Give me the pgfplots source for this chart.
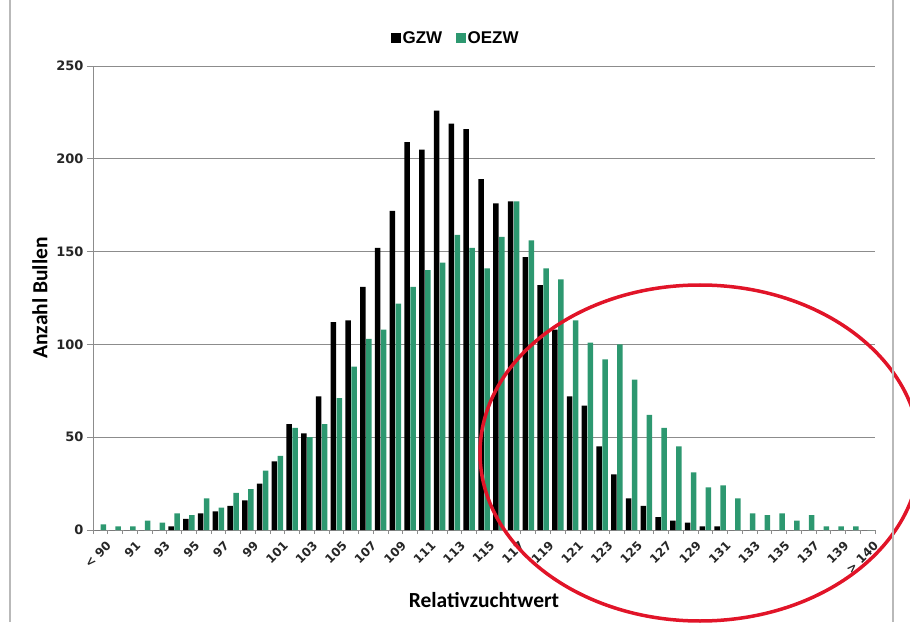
\documentclass[border=0pt]{standalone}
\usepackage{pgfplots}
\pgfplotsset{compat=1.18}
\usepackage{pgfplotstable}
\usepackage{fontspec}
\setmainfont{DejaVu Sans}
\newfontfamily\calib{Carlito}
\newfontfamily\arialf{Liberation Sans}
\definecolor{oezw}{RGB}{45,152,112}
\definecolor{gridc}{RGB}{140,140,140}
\definecolor{ringred}{RGB}{225,20,40}

\pgfplotstableread{
idx B G
0 0 3
1 0 2
2 0 2
3 0 5
4 0 4
5 2 9
6 6 8
7 9 17
8 10 12
9 13 20
10 16 22
11 25 32
12 37 40
13 57 55
14 52 50
15 72 57
16 112 71
17 113 88
18 131 103
19 152 108
20 172 122
21 209 131
22 205 140
23 226 144
24 219 159
25 216 152
26 189 141
27 176 158
28 177 177
29 147 156
30 132 141
31 108 135
32 72 113
33 67 101
34 45 92
35 30 100
36 17 81
37 13 62
38 7 55
39 5 45
40 4 31
41 2 23
42 2 24
43 0 17
44 0 9
45 0 8
46 0 9
47 0 5
48 0 8
49 0 2
50 0 2
51 0 2
52 0 0
}\datatab

\begin{document}
\begin{tikzpicture}
\begin{axis}[
  at={(93pt,92pt)}, anchor=south west,
  scale only axis, width=782pt, height=464pt,
  xmin=-0.5, xmax=52.5, ymin=0, ymax=250,
  axis lines*=left,
  axis line style={gridc, line width=0.8pt},
  ytick={0,50,...,250},
  ymajorgrids, grid style={gridc, line width=0.8pt},
  tick align=outside,
  major tick length=6pt,
  minor tick length=4pt,
  ytick style={gridc, line width=0.8pt},
  xtick={0,2,...,52},
  xticklabels={{< 90},91,93,95,97,99,101,103,105,107,109,111,113,115,117,119,121,123,125,127,129,131,133,135,137,139,{> 140}},
  minor xtick={-0.5,0.5,...,52.5},
  major x tick style={draw=none},
  minor x tick style={gridc, line width=0.8pt},
  /pgf/number format/assume math mode=true,
  yticklabel style={font=\fontsize{13}{15}\selectfont\bfseries, text=black!85},
  xticklabel style={font=\fontsize{12}{14}\selectfont\bfseries, text=black!85, rotate=45, anchor=east, inner sep=1pt, yshift=-11pt, xshift=2pt},
  xlabel={Relativzuchtwert},
  ylabel={Anzahl Bullen},
  every axis x label/.style={at={(axis description cs:0.5,-0.151)}, anchor=center, font=\calib\bfseries\fontsize{21.5}{25}\selectfont},
  every axis y label/.style={at={(axis description cs:-0.0678,0.5)}, rotate=90, anchor=center, font=\calib\bfseries\fontsize{21.5}{25}\selectfont},
  legend style={at={(axis description cs:0.464,1.060)}, anchor=center, draw=none, fill=none,
    font=\arialf\bfseries\fontsize{17}{20}\selectfont, inner sep=0pt,
    /tikz/every even column/.append style={column sep=12pt}},
  legend columns=2,
]
\addplot[ybar, bar width=5.5pt, bar shift=-3pt, fill=black, draw=none,
  legend image code/.code={\fill[black] (0pt,-4.7pt) rectangle (9.5pt,4.8pt);}]
  table[x=idx, y=B] {\datatab};
\addlegendentry{GZW}
\addplot[ybar, bar width=5.5pt, bar shift=3pt, fill=oezw, draw=none,
  legend image code/.code={\fill[oezw] (0pt,-4.7pt) rectangle (9.5pt,4.8pt);}]
  table[x=idx, y=G] {\datatab};
\addlegendentry{OEZW}
\end{axis}
\draw[ringred, line width=3.5pt] (700pt,169pt) ellipse [x radius=220pt, y radius=168pt];
\draw[gray!55, line width=1.2pt] (10pt,0pt) -- (10pt,622pt);
\draw[gray!55, line width=1.2pt] (893pt,0pt) -- (893pt,622pt);
\pgfresetboundingbox
\useasboundingbox (0pt,0pt) rectangle (910pt,622pt);
\end{tikzpicture}
\end{document}
